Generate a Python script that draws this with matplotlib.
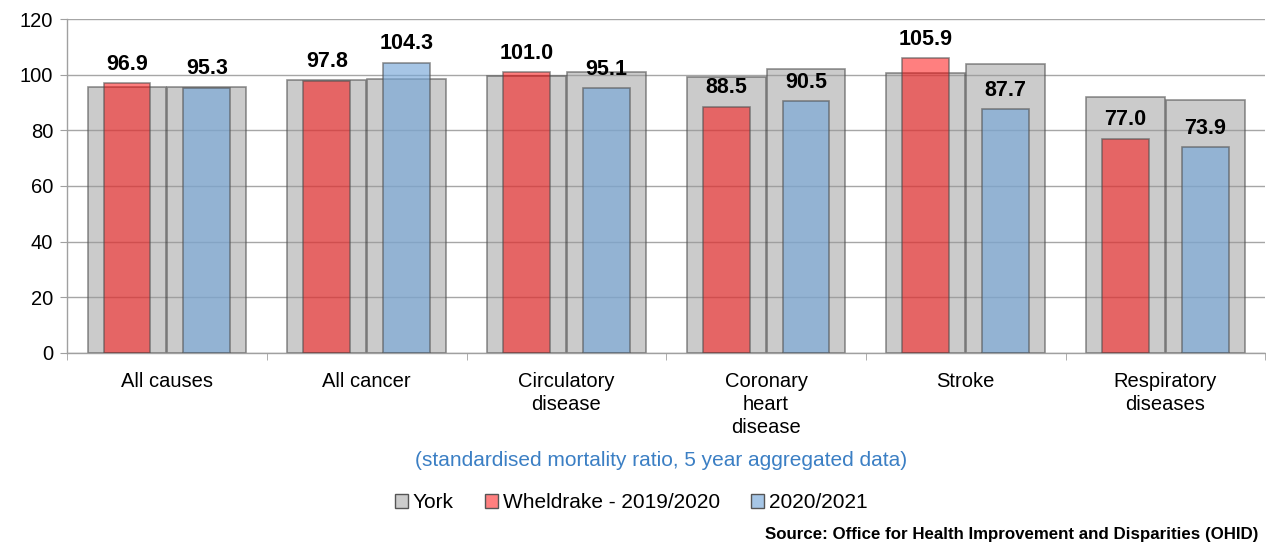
import matplotlib.pyplot as plt
import numpy as np

plt.rcParams['font.family'] = ['Liberation Sans', 'DejaVu Sans']

categories = ["All causes", "All cancer", "Circulatory\ndisease",
              "Coronary\nheart\ndisease", "Stroke", "Respiratory\ndiseases"]
york_2019 = [95.7, 98.0, 99.5, 99.2, 100.7, 91.9]
york_2020 = [95.6, 98.6, 101.0, 101.9, 103.7, 90.8]
wheldrake_2019 = [96.9, 97.8, 101.0, 88.5, 105.9, 77.0]
wheldrake_2020 = [95.3, 104.3, 95.1, 90.5, 87.7, 73.9]

x = np.arange(len(categories))
grey_w = 0.395
col_w = 0.235
off = 0.2

fig = plt.figure(figsize=(12.66, 5.46), dpi=100)
ax = fig.add_axes([0.053, 0.3535, 0.9465, 0.6117])

grey = (0.6, 0.6, 0.6, 0.5)
edge = (0.3, 0.3, 0.3, 0.6)
ax.bar(x - off, york_2019, grey_w, color=grey, edgecolor=edge, linewidth=1.2, zorder=2)
ax.bar(x + off, york_2020, grey_w, color=grey, edgecolor=edge, linewidth=1.2, zorder=2)
red_bars = ax.bar(x - off, wheldrake_2019, col_w, color=(1, 0, 0, 0.5),
                  edgecolor=edge, linewidth=1.2, zorder=3)
blue_bars = ax.bar(x + off, wheldrake_2020, col_w, color=(118/255, 167/255, 216/255, 0.65),
                   edgecolor=edge, linewidth=1.2, zorder=3)

for bars, vals in [(red_bars, wheldrake_2019), (blue_bars, wheldrake_2020)]:
    for b, v in zip(bars, vals):
        ax.annotate(f"{v:.1f}", (b.get_x() + b.get_width() / 2, v),
                    xytext=(0, 6), textcoords='offset points',
                    ha='center', va='bottom', fontsize=15.5, fontweight='bold', zorder=5)

ax.set_ylim(0, 120)
ax.set_yticks(range(0, 121, 20))
ax.set_xlim(-0.5, len(categories) - 0.5)
ax.set_xticks(x)
ax.set_xticklabels(categories, fontsize=14.5, linespacing=1.25)
ax.tick_params(axis='x', which='major', length=0, pad=14)
ax.set_xticks(np.arange(-0.5, len(categories), 1), minor=True)
ax.tick_params(axis='x', which='minor', length=5, color='#a0a0a0')
ax.tick_params(axis='y', length=5, color='#a0a0a0', labelsize=14.5, pad=5)
ax.yaxis.grid(True, color='#a6a6a6', linewidth=1.0, zorder=1)
ax.set_axisbelow(True)
for s in ['top', 'right']:
    ax.spines[s].set_visible(False)
for s in ['left', 'bottom']:
    ax.spines[s].set_color('#a0a0a0')
    ax.spines[s].set_linewidth(1.0)

fig.text(0.522, (546 - 460) / 546, "(standardised mortality ratio, 5 year aggregated data)",
         ha='center', va='center', fontsize=15, color='#3b7fc4')

handles = [
    plt.Rectangle((0, 0), 1, 1, facecolor='#cccccc', edgecolor='#555555'),
    plt.Rectangle((0, 0), 1, 1, facecolor='#ff7f7f', edgecolor='#555555'),
    plt.Rectangle((0, 0), 1, 1, facecolor='#a6c6e6', edgecolor='#555555'),
]
fig.legend(handles, ["York", "Wheldrake - 2019/2020", "2020/2021"],
           loc='center', bbox_to_anchor=(0.4985, (546 - 503) / 546), ncol=3,
           frameon=False, fontsize=15, handlelength=0.65, handleheight=0.65,
           handletextpad=0.2, columnspacing=1.5)

fig.text(0.994, (546 - 535) / 546, "Source: Office for Health Improvement and Disparities (OHID)",
         ha='right', va='center', fontsize=12.2, fontweight='bold')

fig.savefig("out.png", dpi=100)
